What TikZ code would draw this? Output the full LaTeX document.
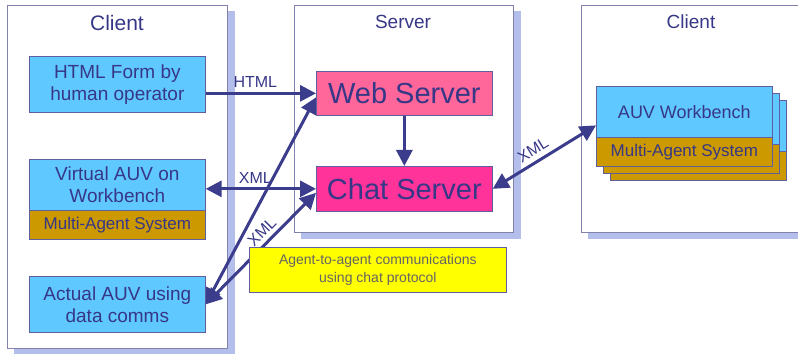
\documentclass[tikz,border=0pt]{standalone}
\usepackage{fontspec}
\setmainfont{Liberation Sans}
\usetikzlibrary{arrows.meta}
\definecolor{ink}{RGB}{55,55,135}
\definecolor{arrowc}{RGB}{60,60,140}
\definecolor{frameline}{RGB}{130,130,175}
\definecolor{panelshade}{RGB}{180,190,235}
\definecolor{skyb}{RGB}{95,200,255}
\definecolor{gold}{RGB}{204,153,0}
\definecolor{webpink}{RGB}{255,102,153}
\definecolor{chatpink}{RGB}{255,51,153}
\definecolor{notey}{RGB}{255,255,0}
\definecolor{notetext}{RGB}{100,100,100}
\begin{document}
\begin{tikzpicture}[x=1pt, y=-1pt,
    panel/.style={draw=frameline, fill=white, line width=0.8pt},
    title/.style={text=ink, font=\fontsize{19}{22}\selectfont},
    box/.style={draw=ink!80, line width=0.7pt, anchor=north west, inner sep=0pt,
      align=center, text=ink, minimum width=176pt, font=\fontsize{19}{22}\selectfont},
    agents/.style={box, fill=gold, minimum height=29pt, font=\fontsize{17}{20}\selectfont},
    srv/.style={box, minimum height=44pt, font=\fontsize{29}{32}\selectfont},
    tip/.tip={Triangle[length=16pt, width=16pt]},
    link/.style={draw=arrowc, line width=3pt, -tip},
    dlink/.style={draw=arrowc, line width=3pt, tip-tip},
    lbl/.style={text=ink, inner sep=1pt, font=\fontsize{16}{18}\selectfont}]
  \clip (0,0) rectangle (798,355);

  % left panel: client with the three AUV front ends
  \fill[panelshade] (14,11) rectangle (235,354);
  \draw[panel] (7,5) rectangle (227,348);
  \node[title, font=\fontsize{21}{24}\selectfont] (client1) at (117,23) {Client};
  \node[box, fill=skyb, minimum height=56pt] (form) at (29,56) {HTML Form by\\human operator};
  \node[box, fill=skyb, minimum height=51pt] (virtual) at (29,159) {Virtual AUV on\\Workbench};
  \node[agents] (mas1) at (29,210) {Multi-Agent System};
  \node[box, fill=skyb, minimum height=56pt] (actual) at (29,276) {Actual AUV using\\data comms};

  % middle panel: server
  \fill[panelshade] (301,11) rectangle (521,239);
  \draw[panel] (294,5) rectangle (513,232);
  \node[title] (server) at (403,22) {Server};
  \node[srv, fill=webpink] (web) at (316,71) {Web Server};
  \node[srv, fill=chatpink, minimum height=45pt] (chat) at (316,166) {Chat Server};

  % right panel: client with stacked workbenches
  \fill[panelshade] (588,11) rectangle (812,239);
  \draw[panel] (581,5) rectangle (806,232);
  \node[title] (client2) at (691,22) {Client};
  \foreach \d in {14,7}{
    \node[box, fill=skyb, minimum height=51pt] (wb\d) at (596+\d,86+\d) {};
    \node[agents] (ag\d) at (596+\d,137+\d) {};
  }
  \node[box, fill=skyb, minimum height=51pt, font=\fontsize{18}{21}\selectfont]
    (auv) at (596,86) {AUV Workbench};
  \node[agents] (mas2) at (596,137) {Multi-Agent System};

  % connectors
  \draw[link] (form.east |- web.west) -- (web.west) node[lbl, pos=0.45, above=3pt] {HTML};
  \draw[link] (web.south) -- (chat.north);
  \draw[dlink] (virtual.east |- chat.west) -- (chat.west) node[lbl, pos=0.45, above=3pt] {XML};
  \draw[dlink] (actual.east) -- ([yshift=-4pt]web.west);
  \draw[dlink] (actual.east) -- ([yshift=-4pt]chat.west)
    node[lbl, pos=0.58, above=3pt, sloped] {XML};
  \draw[dlink] (chat.east) -- ([yshift=-13.5pt]auv.west)
    node[lbl, pos=0.45, above=4pt, sloped] {XML};

  % note on top of the lines
  \node[box, fill=notey, minimum width=257pt, minimum height=45pt, text=notetext,
    font=\fontsize{14}{18}\selectfont] (note) at (249,247)
    {Agent-to-agent communications\\using chat protocol};
\end{tikzpicture}
\end{document}
